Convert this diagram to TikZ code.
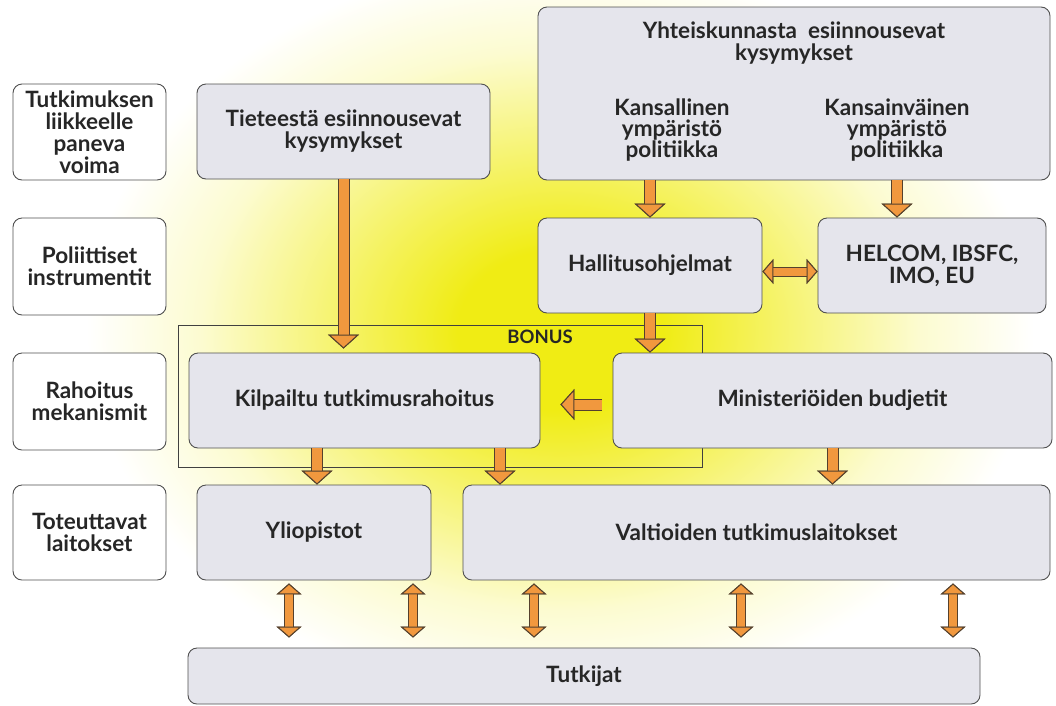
\documentclass[tikz,border=0pt]{standalone}
\usepackage{fontspec}
\setmainfont{Lato}
\usetikzlibrary{arrows.meta}

\definecolor{laatikkovari}{RGB}{229,229,236}
\definecolor{reunavari}{RGB}{80,80,80}
\definecolor{nuolivari}{RGB}{241,152,62}
\definecolor{nuolireuna}{RGB}{85,65,45}
\definecolor{hehku}{RGB}{240,236,20}
\pgfdeclareradialshading{hehkuvarjo}{\pgfpoint{0bp}{0bp}}{color(0bp)=(hehku); color(4bp)=(hehku); color(9bp)=(hehku!60!white); color(14bp)=(hehku!20!white); color(18.5bp)=(white); color(50bp)=(white)}

\tikzset{
  kirjain/.style={font=\bfseries\fontsize{22.5}{22}\selectfont, text=black!85},
  laatikko/.style={kirjain, draw=reunavari, fill=laatikkovari, rounded corners=9pt, line width=0.9pt, align=center, inner sep=0pt},
  otsake/.style={kirjain, draw=reunavari, fill=white, rounded corners=9pt, line width=0.9pt, align=center, inner sep=0pt, minimum width=153pt},
  teksti/.style={kirjain, align=center},
  karki/.tip={Triangle[width=31pt,length=14pt,line width=1pt,color=nuolireuna,fill=nuolivari]},
  varjo/.tip={Triangle[width=31pt,length=14pt,line width=1pt]},
  pkarki/.tip={Triangle[width=25pt,length=11pt,line width=1pt,color=nuolireuna,fill=nuolivari]},
  pvarjo/.tip={Triangle[width=25pt,length=11pt,line width=1pt]},
  virta/.style={line width=10pt, draw=nuolivari, -karki, preaction={draw=nuolireuna, line width=12pt, -varjo}},
  vaihto/.style={line width=8pt, draw=nuolivari, pkarki-pkarki, preaction={draw=nuolireuna, line width=10pt, pvarjo-pvarjo}},
}

\begin{document}
\begin{tikzpicture}[x=1pt, y=-1pt]
  % tausta ja keltainen hehku
  \fill[white] (0,0) rectangle (1056,705);
  \begin{scope}
    \clip (0,0) rectangle (1056,705);
    \shade[shading=hehkuvarjo] (560,330) ellipse [x radius=640pt, y radius=500pt];
  \end{scope}
  \useasboundingbox (0,0) rectangle (1056,705);

  % vasemman reunan otsakkeet
  \node[otsake, minimum height=96pt] (voima) at (89.5,132) {Tutkimuksen\\liikkeelle\\paneva\\voima};
  \node[otsake, minimum height=97pt] (instr) at (89.5,266.5) {Poliittiset\\instrumentit};
  \node[otsake, minimum height=97pt] (rahoitus) at (89.5,401.5) {Rahoitus\\mekanismit};
  \node[otsake, minimum height=95pt] (laitos) at (89.5,532.5) {Toteuttavat\\laitokset};

  % BONUS-kehys
  \draw[line width=0.9pt, draw=black!75] (178,325) rectangle (702,467);
  \node[kirjain, font=\bfseries\fontsize{18.5}{20}\selectfont] (bonus) at (540,337) {BONUS};

  % laatikot
  \node[laatikko, minimum width=293pt, minimum height=95pt] (tiede) at (343.5,131.5) {Tieteestä esiinnousevat\\kysymykset};
  \node[laatikko, minimum width=512pt, minimum height=173pt] (yht) at (794,93.5) {};
  \node[teksti] (yhtots) at (794,43) {Yhteiskunnasta\ \ esiinnousevat\\kysymykset};
  \node[teksti, font=\bfseries\fontsize{22.5}{21}\selectfont] (kans) at (672,130) {Kansallinen\\ympäristö\\politiikka};
  \node[teksti, font=\bfseries\fontsize{22.5}{21}\selectfont] (kansv) at (897,130) {Kansainväinen\\ympäristö\\politiikka};
  \node[laatikko, minimum width=224pt, minimum height=95pt] (hall) at (650,265.5) {Hallitusohjelmat};
  \node[laatikko, minimum width=228pt, minimum height=95pt] (helcom) at (932,265.5) {HELCOM, IBSFC,\\IMO, EU};
  \node[laatikko, minimum width=351pt, minimum height=95pt] (kilp) at (364.5,400.5) {Kilpailtu tutkimusrahoitus};
  \node[laatikko, minimum width=439pt, minimum height=95pt] (mini) at (832.5,400.5) {Ministeriöiden budjetit};
  \node[laatikko, minimum width=234pt, minimum height=95pt] (ylio) at (314,532.5) {Yliopistot};
  \node[laatikko, minimum width=587pt, minimum height=95pt] (valt) at (756.5,532.5) {Valtioiden tutkimuslaitokset};
  \node[laatikko, minimum width=792pt, minimum height=56pt] (tutk) at (584,676) {Tutkijat};

  % nuolet
  \draw[virta, shorten >=4pt] (tiede.south) -- (tiede.south |- kilp.north);
  \draw[virta] (hall.north |- yht.south) -- (hall.north);
  \draw[virta] (kansv |- yht.south) -- (kansv |- helcom.north);
  \draw[vaihto] ([yshift=-6pt]hall.east) -- ([yshift=-6pt]helcom.west);
  \draw[virta] (hall.south) -- (hall.south |- mini.north);
  \draw[virta, shorten <=11pt, shorten >=20pt] ([yshift=-4pt]mini.west) -- ([yshift=-4pt]kilp.east);
  \draw[virta] (kilp.south -| 317,0) -- (ylio.north -| 317,0);
  \draw[virta] (kilp.south -| 500,0) -- (valt.north -| 500,0);
  \draw[virta] (mini.south) -- (mini.south |- valt.north);
  \foreach \x in {289,413} \draw[vaihto, shorten <=3pt, shorten >=10pt] (ylio.south -| \x,0) -- (tutk.north -| \x,0);
  \foreach \x in {534,741,953} \draw[vaihto, shorten <=3pt, shorten >=10pt] (valt.south -| \x,0) -- (tutk.north -| \x,0);
\end{tikzpicture}
\end{document}
